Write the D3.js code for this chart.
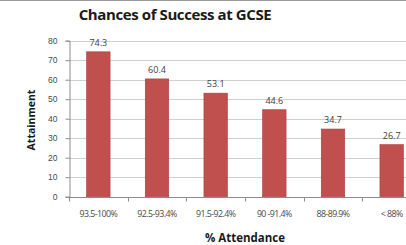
<!DOCTYPE html>
<html>
<head>
<meta charset="utf-8">
<script src="https://cdn.jsdelivr.net/npm/d3@7"></script>
<style>
  body { margin: 0; background: #fff; }
  svg { display: block; font-family: "Open Sans", "Liberation Sans", sans-serif; }
  .grid line { stroke: #cfcfcf; stroke-width: 1; }
  .axis path, .axis line { stroke: #8c8c8c; }
  .axis text { fill: #4a4a4a; }
</style>
</head>
<body>
<div id="chart"></div>
<script>
const categories = ['93.5-100%', '92.5-93.4%', '91.5-92.4%', '90 -91.4%', '88-89.9%', '< 88%'];
const attainment = [74.3, 60.4, 53.1, 44.6, 34.7, 26.7];
const yTicks = [0, 10, 20, 30, 40, 50, 60, 70, 80];

const W = 406, H = 245;
const svg = d3.select('#chart').append('svg')
    .attr('width', W)
    .attr('height', H);

// thin frame line at top of the cropped picture
svg.append('line')
    .attr('x1', 0).attr('x2', W)
    .attr('y1', 0.5).attr('y2', 0.5)
    .attr('stroke', '#9a9a9a');

const x = d3.scaleBand()
    .domain(categories)
    .range([69, 421])
    .paddingInner(0.6)
    .paddingOuter(0.3);

const y = d3.scaleLinear()
    .domain([0, 80])
    .range([196.7, 40.7]);

// gridlines
svg.append('g')
    .attr('class', 'grid')
    .selectAll('line')
    .data(yTicks.slice(1))
    .join('line')
    .attr('x1', 69).attr('x2', W)
    .attr('y1', d => Math.round(y(d)) + 0.5)
    .attr('y2', d => Math.round(y(d)) + 0.5);

// y axis
const yAxis = svg.append('g')
    .attr('class', 'axis')
    .attr('transform', 'translate(69.5,0)')
    .call(d3.axisLeft(y).tickValues(yTicks).tickSize(4).tickPadding(8));
yAxis.selectAll('text').style('font-size', '8.5px');

// bars
svg.append('g')
    .selectAll('rect')
    .data(attainment)
    .join('rect')
    .attr('x', (d, i) => x(categories[i]))
    .attr('y', d => y(d))
    .attr('width', x.bandwidth())
    .attr('height', d => y(0) - y(d))
    .attr('fill', '#c0504d')
    .attr('stroke', '#a5403d')
    .attr('stroke-width', 0.6);

// data labels
svg.append('g')
    .selectAll('text')
    .data(attainment)
    .join('text')
    .attr('x', (d, i) => x(categories[i]) + x.bandwidth() / 2)
    .attr('y', d => y(d) - 6)
    .attr('text-anchor', 'middle')
    .attr('fill', '#404040')
    .style('font-size', '9px')
    .text(d => d.toFixed(1));

// x axis with ticks between categories
const xAxisG = svg.append('g')
    .attr('class', 'axis')
    .attr('transform', `translate(0,${Math.round(y(0)) + 0.5})`);
xAxisG.append('line')
    .attr('x1', 69).attr('x2', W)
    .attr('stroke', '#8c8c8c');
xAxisG.selectAll('.sep')
    .data(categories)
    .join('line')
    .attr('class', 'sep')
    .attr('x1', d => Math.round(x(d) - x.step() * 0.3) + 0.5)
    .attr('x2', d => Math.round(x(d) - x.step() * 0.3) + 0.5)
    .attr('y1', 0).attr('y2', 4);
xAxisG.selectAll('text')
    .data(categories)
    .join('text')
    .attr('x', d => x(d) + x.bandwidth() / 2)
    .attr('y', 19)
    .attr('text-anchor', 'middle')
    .attr('fill', '#4a4a4a')
    .style('font-size', '8.8px')
    .style('letter-spacing', '-0.55px')
    .text(d => d);

// title
svg.append('text')
    .attr('x', 175)
    .attr('y', 20)
    .attr('text-anchor', 'middle')
    .attr('fill', '#1a1a1a')
    .style('font-size', '15px')
    .style('font-weight', 'bold')
    .style('letter-spacing', '-0.4px')
    .text('Chances of Success at GCSE');

// axis titles
svg.append('text')
    .attr('transform', 'translate(35,120) rotate(-90)')
    .attr('text-anchor', 'middle')
    .attr('fill', '#1a1a1a')
    .style('font-size', '10.5px')
    .style('font-weight', 'bold')
    .text('Attainment');

svg.append('text')
    .attr('x', 245)
    .attr('y', 242)
    .attr('text-anchor', 'middle')
    .attr('fill', '#1a1a1a')
    .style('font-size', '11.5px')
    .style('font-weight', 'bold')
    .text('% Attendance');
</script>
</body>
</html>
